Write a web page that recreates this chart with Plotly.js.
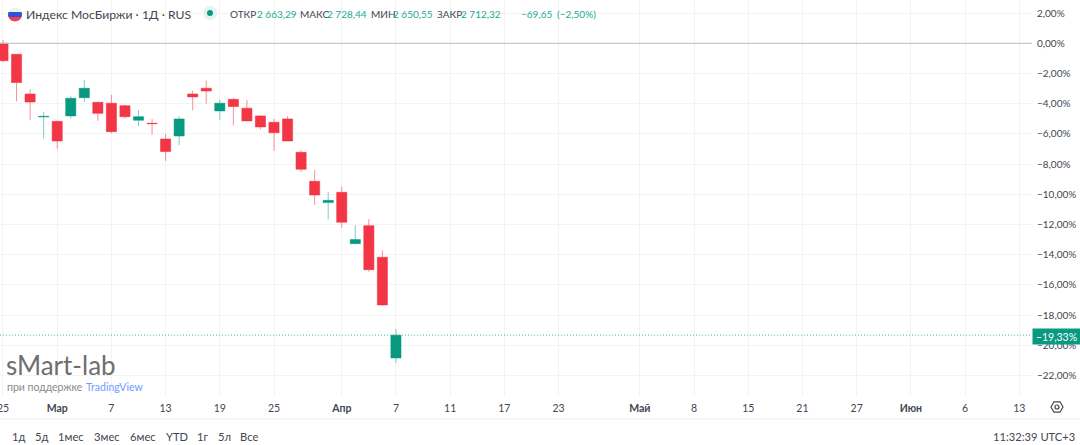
<!DOCTYPE html>
<html><head><meta charset="utf-8">
<script src="https://cdn.plot.ly/plotly-3.0.1.min.js"></script>
<style>html,body{margin:0;padding:0;background:#fff;overflow:hidden}#c{width:1080px;height:445px}</style>
</head><body><div id="c"></div>
<script>
const opens  = [0.00,-0.73,-3.36,-4.88,-5.17,-4.81,-3.60,-3.91,-3.97,-4.13,-5.10,-5.30,-6.34,-6.14,-3.36,-2.98,-4.48,-3.71,-4.30,-4.81,-5.23,-5.01,-7.22,-9.14,-10.55,-9.87,-13.27,-12.08,-14.17,-20.84];
const highs  = [0.22,-0.73,-3.05,-4.55,-5.12,-3.47,-2.43,-3.86,-3.42,-4.06,-4.42,-5.01,-6.00,-4.83,-3.13,-2.47,-3.75,-3.64,-3.75,-4.77,-5.01,-4.83,-7.09,-8.39,-9.85,-9.50,-12.05,-11.64,-13.71,-18.90];
const lows   = [-1.26,-3.84,-5.10,-6.31,-6.98,-4.99,-3.89,-5.14,-5.96,-4.99,-5.47,-6.05,-7.79,-6.75,-4.44,-4.00,-5.06,-5.43,-5.14,-5.70,-7.13,-6.47,-8.52,-10.70,-11.66,-12.21,-13.27,-15.13,-17.38,-21.17];
const closes = [-1.15,-2.60,-3.89,-4.84,-6.47,-3.64,-2.98,-4.64,-5.85,-4.86,-4.86,-5.32,-7.17,-5.01,-3.55,-3.16,-3.97,-4.19,-5.14,-5.54,-5.92,-6.47,-8.34,-10.05,-10.40,-11.85,-13.00,-14.99,-17.33,-19.33];
const sessions = opens.map((_, i) => i);
const xTickVals = [0,4,8,12,16,20,25,29,33,37,41,47,51,55,59,63,67,71,75];
const xTickText = ['25','<b>Мар</b>','7','13','19','25','<b>Апр</b>','7','11','17','23','<b>Май</b>','8','15','21','27','<b>Июн</b>','6','13'];
const yTickVals = [2,0,-2,-4,-6,-8,-10,-12,-14,-16,-18,-20,-22];
const yTickText = ['2,00%','0,00%','−2,00%','−4,00%','−6,00%','−8,00%','−10,00%','−12,00%','−14,00%','−16,00%','−18,00%','−20,00%','−22,00%'];
const lastValue = -19.33, lastLabel = '−19,33%';
const rangeButtons = [['1д',12],['5д',35],['1мес',58],['3мес',94],['6мес',130],['YTD',166],['1г',197],['5л',218],['Все',240]];
const header = [['ОТКР',230,'#434651'],['2 663,29',257,'#22ab94'],['МАКС',300,'#434651'],['2 728,44',327,'#22ab94'],['МИН',371,'#434651'],['2 650,55',393,'#22ab94'],['ЗАКР',437,'#434651'],['2 712,32',461,'#22ab94'],['−69,65',521,'#22ab94'],['(−2,50%)',557,'#22ab94']];

const W = 1080, H = 445, PW = 1032, PH = 396, FONT = 'Lato,"Noto Sans",sans-serif';
const px = v => v / PW, py = v => 1 - v / PH;
const note = (text, x, y, size, color, extra) => Object.assign({
  text, x: px(x - 1), y: py(y), xref: 'paper', yref: 'paper', xanchor: 'left', yanchor: 'middle',
  showarrow: false, font: {size, color, family: FONT}, borderpad: 0
}, extra || {});
const circle = (cx, cy, r, o) => Object.assign({type:'circle', xref:'paper', yref:'paper',
  x0:px(cx-r), x1:px(cx+r), y0:py(cy+r), y1:py(cy-r), line:{width:0}}, o);
const poly = pts => 'M' + pts.map(p => px(p[0]) + ',' + py(p[1])).join('L') + 'Z';
// one horizontal band of the round flag icon
const flagBand = (cx, cy, r, y0, y1, c) => {
  const L = [], R = [];
  for (let k = 0; k <= 6; k++) {
    const y = y0 + (y1 - y0) * k / 6, d = Math.sqrt(Math.max(0, r*r - (y-cy)*(y-cy)));
    L.push([cx - d, y]); R.unshift([cx + d, y]);
  }
  return {type:'path', xref:'paper', yref:'paper', layer:'above', path:poly(L.concat(R)), fillcolor:c, line:{width:0}};
};

const annotations = [
  note('Индекс МосБиржи · 1Д · RUS', 26, 14, 12.2, '#434651'),
  note('sMart-lab', 6, 365, 26, '#6f6f6f'),
  note('при поддержке', 7, 387, 10.5, '#8a8a8a'),
  note('TradingView', 86, 387, 10.5, '#6e9bff'),
  note('11:32:39 UTC+3', 993, 436, 11.2, '#434651'),
  {text:lastLabel, x:1, xref:'paper', xanchor:'left', y:lastValue, yref:'y', yanchor:'middle', yshift:-1,
   showarrow:false, width:47, height:15, bgcolor:'#089981', borderpad:0,
   font:{size:10.5, color:'#ffffff', family:FONT}, align:'center'}
];
header.forEach(h => annotations.push(note(h[0], h[1], 14, 10, h[2])));
rangeButtons.forEach(b => annotations.push(note(b[0], b[1], 436, 11.2, '#434651')));

const hex = [[1063,407],[1060,401.8],[1054,401.8],[1051,407],[1054,412.2],[1060,412.2]];
const shapes = [
  {type:'line', xref:'paper', x0:0, x1:1, yref:'y', y0:0, y1:0, line:{color:'#bdbdbd', width:1}},
  {type:'line', xref:'paper', x0:0, x1:1, yref:'y', y0:lastValue, y1:lastValue, line:{color:'rgba(8,153,129,0.7)', width:1, dash:'1px,2px'}},
  {type:'line', xref:'paper', yref:'paper', x0:0, x1:W/PW, y0:py(419), y1:py(419), line:{color:'#eeeeee', width:1}},
  flagBand(15, 14.5, 7, 7.5, 12, '#f0f0f0'),
  flagBand(15, 14.5, 7, 12, 17, '#2f55d4'),
  flagBand(15, 14.5, 7, 17, 21.5, '#ef4050'),
  circle(210, 13, 7, {fillcolor:'#e3f3ef', layer:'above'}),
  circle(210, 13, 3, {fillcolor:'#089981', layer:'above'}),
  {type:'path', xref:'paper', yref:'paper', path:poly(hex), line:{color:'#434651', width:1.2}, fillcolor:'rgba(0,0,0,0)', layer:'above'},
  circle(1057, 407, 2, {line:{color:'#434651', width:1.2}, fillcolor:'rgba(0,0,0,0)', layer:'above'})
];

Plotly.newPlot('c', [{
  type:'candlestick', x:sessions, open:opens, high:highs, low:lows, close:closes,
  increasing:{line:{color:'rgba(8,153,129,0.5)', width:1}, fillcolor:'#089981'},
  decreasing:{line:{color:'rgba(242,54,69,0.55)', width:1}, fillcolor:'#f23645'},
  hoverinfo:'skip', showlegend:false
}], {
  width:W, height:H, paper_bgcolor:'#fff', plot_bgcolor:'#fff',
  margin:{l:0, r:48, t:0, b:49, autoexpand:false}, boxgap:0.25, boxgroupgap:0,
  font:{family:FONT, color:'#434651', size:11},
  xaxis:{type:'linear', range:[-0.221,75.94], tickmode:'array', tickvals:xTickVals, ticktext:xTickText,
    rangeslider:{visible:false}, showgrid:true, gridcolor:'#f3f3f3', gridwidth:1, zeroline:false, showline:false,
    ticks:'outside', ticklen:2, tickcolor:'rgba(0,0,0,0)', ticklabeloverflow:'allow', tickfont:{size:10.5, color:'#434651', family:FONT}},
  yaxis:{side:'right', range:[-23.36,2.868], tickmode:'array', tickvals:yTickVals, ticktext:yTickText,
    showgrid:true, gridcolor:'#f3f3f3', gridwidth:1, zeroline:false, showline:false,
    ticks:'outside', ticklen:2, tickcolor:'rgba(0,0,0,0)', ticklabeloverflow:'allow', tickfont:{size:10, color:'#434651', family:FONT}},
  shapes, annotations
}, {displayModeBar:false, staticPlot:true});
</script></body></html>
